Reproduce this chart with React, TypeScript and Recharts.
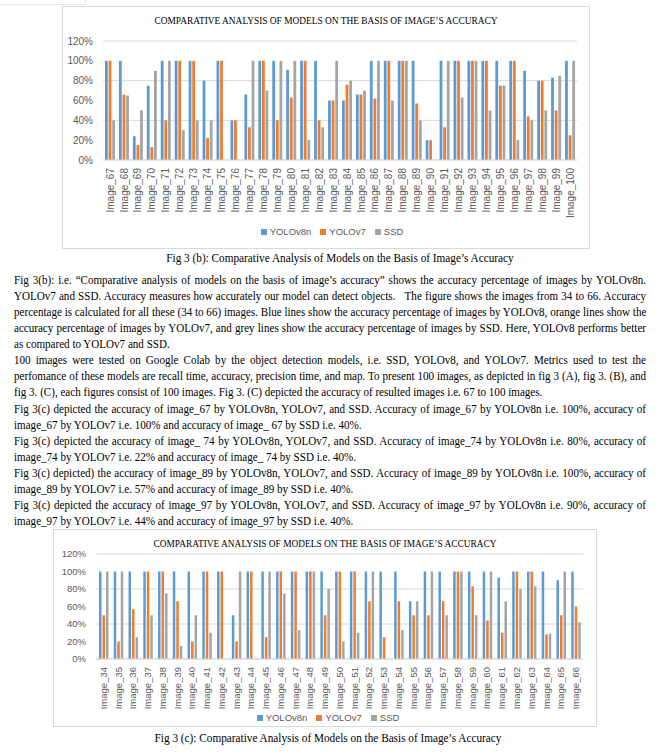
import { BarChart, Bar, XAxis, YAxis, CartesianGrid, Legend } from 'recharts';

const BLUE = '#5B9BD5';
const ORANGE = '#ED7D31';
const GREY = '#A5A5A5';
const AXIS_TEXT = '#595959';
const SANS = '"Liberation Sans", Arial, sans-serif';
const SERIF = '"Liberation Serif", "Times New Roman", serif';

const TITLE = 'COMPARATIVE ANALYSIS OF MODELS ON THE BASIS OF IMAGE’S ACCURACY';
const seriesNames = ['YOLOv8n', 'YOLOv7', 'SSD'];
const seriesColors = [BLUE, ORANGE, GREY];
const yTicks = [0, 20, 40, 60, 80, 100, 120];

// fig 3 (b): images 67 - 100
const topLabels = [
  'Image_67', 'Image_68', 'Image_69', 'Image_70', 'Image_71', 'Image_72', 'Image_73', 'Image_74', 'Image_75',
  'Image_76', 'Image_77', 'Image_78', 'Image_79', 'Image_80', 'Image_81', 'Image_82', 'Image_83', 'Image_84',
  'Image_85', 'Image_86', 'Image_87', 'Image_88', 'Image_89', 'Image_90', 'Image_91', 'Image_92', 'Image_93',
  'Image_94', 'Image_95', 'Image_96', 'Image_97', 'Image_98', 'Image_99', 'Image_100',
];
const topYolov8n = [100, 100, 24, 75, 100, 100, 100, 80, 100, 40, 66, 100, 100, 91, 100, 100, 60, 60, 66, 100, 100, 100, 100, 20, 100, 100, 100, 100, 100, 100, 90, 80, 83, 100];
const topYolov7 = [100, 66, 15, 13, 40, 100, 100, 22, 100, 40, 33, 100, 40, 63, 100, 40, 60, 76, 66, 62, 100, 100, 57, 20, 33, 100, 100, 100, 75, 100, 44, 80, 50, 25];
const topSsd = [40, 65, 50, 90, 100, 30, 40, 40, 0, 0, 100, 70, 100, 100, 20, 33, 100, 80, 70, 100, 60, 100, 40, 0, 100, 63, 100, 50, 75, 20, 40, 50, 85, 100];

// fig 3 (c): images 34 - 66
const bottomLabels = [
  'Image_34', 'Image_35', 'Image_36', 'Image_37', 'Image_38', 'Image_39', 'Image_40', 'Image_41', 'Image_42',
  'Image_43', 'Image_44', 'Image_45', 'Image_46', 'Image_47', 'Image_48', 'Image_49', 'Image_50', 'Image_51',
  'Image_52', 'Image_53', 'Image_54', 'Image_55', 'Image_56', 'Image_57', 'Image_58', 'Image_59', 'Image_60',
  'Image_61', 'Image_62', 'Image_63', 'Image_64', 'Image_65', 'Image_66',
];
const bottomYolov8n = [100, 100, 100, 100, 100, 100, 100, 100, 100, 50, 100, 100, 100, 100, 100, 100, 100, 100, 100, 100, 100, 66, 100, 100, 100, 100, 100, 93, 100, 100, 100, 90, 100];
const bottomYolov7 = [50, 20, 57, 100, 100, 66, 20, 100, 100, 20, 100, 25, 100, 100, 100, 50, 100, 100, 66, 25, 66, 50, 50, 66, 100, 83, 44, 30, 100, 100, 28, 50, 60];
const bottomSsd = [100, 100, 25, 50, 75, 15, 50, 30, 0, 100, 0, 100, 75, 33, 100, 80, 20, 30, 100, 0, 33, 66, 100, 50, 100, 50, 100, 66, 80, 83, 29, 100, 42];

const paragraph = [
  { text: 'Fig 3(b): i.e. “Comparative analysis of models on the basis of image’s accuracy” shows the accuracy percentage of images by YOLOv8n.', full: true },
  { text: 'YOLOv7 and SSD. Accuracy measures how accurately our model can detect objects.   The figure shows the images from 34 to 66. Accuracy', full: true },
  { text: 'percentage is calculated for all these (34 to 66) images. Blue lines show the accuracy percentage of images by YOLOv8, orange lines show the', full: true },
  { text: 'accuracy percentage of images by YOLOv7, and grey lines show the accuracy percentage of images by SSD. Here, YOLOv8 performs better', full: true },
  { text: 'as compared to YOLOv7 and SSD.', full: false },
  { text: '100 images were tested on Google Colab by the object detection models, i.e. SSD, YOLOv8, and YOLOv7. Metrics used to test the', full: true },
  { text: 'perfomance of these models are recall time, accuracy, precision time, and map. To present 100 images, as depicted in fig 3 (A), fig 3. (B), and', full: true },
  { text: 'fig 3. (C), each figures consist of 100 images. Fig 3. (C) depicted the accuracy of resulted images i.e. 67 to 100 images.', full: false },
  { text: 'Fig 3(c) depicted the accuracy of image_67 by YOLOv8n, YOLOv7, and SSD. Accuracy of image_67 by YOLOv8n i.e. 100%, accuracy of', full: true },
  { text: 'image_67 by YOLOv7 i.e. 100% and accuracy of image_ 67 by SSD i.e. 40%.', full: false },
  { text: 'Fig 3(c) depicted the accuracy of image_ 74 by YOLOv8n, YOLOv7, and SSD. Accuracy of image_74 by YOLOv8n i.e. 80%, accuracy of', full: true },
  { text: 'image_74 by YOLOv7 i.e. 22% and accuracy of image_ 74 by SSD i.e. 40%.', full: false },
  { text: 'Fig 3(c) depicted) the accuracy of image_89 by YOLOv8n, YOLOv7, and SSD. Accuracy of image_89 by YOLOv8n i.e. 100%, accuracy of', full: true },
  { text: 'image_89 by YOLOv7 i.e. 57% and accuracy of image_89 by SSD i.e. 40%.', full: false },
  { text: 'Fig 3(c) depicted the accuracy of image_97 by YOLOv8n, YOLOv7, and SSD. Accuracy of image_97 by YOLOv8n i.e. 90%, accuracy of', full: true },
  { text: 'image_97 by YOLOv7 i.e. 44% and accuracy of image_97 by SSD i.e. 40%.', full: false },
];

const buildRows = (labels: string[], a: number[], b: number[], c: number[]) =>
  labels.map((name, i) => ({ name, YOLOv8n: a[i], YOLOv7: b[i], SSD: c[i] }));

const topData = buildRows(topLabels, topYolov8n, topYolov7, topSsd);
const bottomData = buildRows(bottomLabels, bottomYolov8n, bottomYolov7, bottomSsd);

function RotatedTick(props: any) {
  const { x, y, payload, fontSize } = props;
  return (
    <text
      transform={`translate(${x + fontSize * 0.36},${y + 6}) rotate(-90)`}
      textAnchor="end"
      fontSize={fontSize}
      fontFamily={SANS}
      fill={AXIS_TEXT}
    >
      {payload.value}
    </text>
  );
}

// fixed order legend (recharts sorts items by name otherwise)
function LegendContent() {
  return (
    <div style={{ display: 'flex', justifyContent: 'center', gap: 9, fontSize: 9.5, fontFamily: SANS, color: AXIS_TEXT, lineHeight: '12px' }}>
      {seriesNames.map((n, i) => (
        <span key={n} style={{ display: 'inline-flex', alignItems: 'center' }}>
          <span style={{ display: 'inline-block', width: 6, height: 6, background: seriesColors[i], marginRight: 3 }} />
          {n}
        </span>
      ))}
    </div>
  );
}

type ChartProps = {
  data: any[];
  left: number;
  top: number;
  width: number;
  height: number;
  yAxisWidth: number;
  marginTop: number;
  marginRight: number;
  marginBottom: number;
  xAxisHeight: number;
  barSize: number;
  barGap: number;
  tickFont: number;
  titleTop: number;
  legendTop: number;
  legendCenter: number;
};

function AccuracyChart(p: ChartProps) {
  const innerW = p.width - 2;
  const innerH = p.height - 2;
  return (
    <div
      style={{
        position: 'absolute',
        left: p.left,
        top: p.top,
        width: p.width,
        height: p.height,
        boxSizing: 'border-box',
        border: '1px solid #D9D9D9',
        background: '#fff',
      }}
    >
      <div
        style={{
          position: 'absolute',
          top: p.titleTop,
          left: 0,
          width: innerW,
          textAlign: 'center',
          fontFamily: SERIF,
          fontSize: 9.4,
          lineHeight: '10px',
          color: '#000',
          whiteSpace: 'nowrap',
        }}
      >
        {TITLE}
      </div>
      <BarChart
        width={innerW}
        height={innerH}
        data={p.data}
        margin={{ top: p.marginTop, right: p.marginRight, bottom: p.marginBottom, left: 0 }}
        barGap={p.barGap}
        barSize={p.barSize}
      >
        <CartesianGrid vertical={false} stroke="#D9D9D9" />
        <XAxis
          dataKey="name"
          interval={0}
          height={p.xAxisHeight}
          tickLine={false}
          tickSize={0}
          axisLine={{ stroke: '#D9D9D9' }}
          tick={<RotatedTick fontSize={p.tickFont} />}
        />
        <YAxis
          width={p.yAxisWidth}
          domain={[0, 120]}
          ticks={yTicks}
          axisLine={false}
          tickLine={false}
          tickSize={0}
          tickMargin={10}
          tickFormatter={(v: number) => `${v}%`}
          tick={{ fontSize: p.tickFont, fill: AXIS_TEXT, fontFamily: SANS }}
        />
        <Legend
          layout="horizontal"
          verticalAlign="middle"
          align="center"
          content={<LegendContent />}
          wrapperStyle={{ top: p.legendTop, left: p.legendCenter - p.left - 1 - 100, width: 200 }}
        />
        <Bar dataKey={seriesNames[0]} fill={BLUE} isAnimationActive={false} />
        <Bar dataKey={seriesNames[1]} fill={ORANGE} isAnimationActive={false} />
        <Bar dataKey={seriesNames[2]} fill={GREY} isAnimationActive={false} />
      </BarChart>
    </div>
  );
}

const SQUEEZE = 0.9;

function Caption({ top, center, children }: { top: number; center: number; children: any }) {
  return (
    <div
      style={{
        position: 'absolute',
        top,
        left: center - 250,
        width: 500,
        textAlign: 'center',
        fontFamily: SERIF,
        fontSize: 12.5,
        lineHeight: '16px',
        color: '#000',
        whiteSpace: 'nowrap',
        transform: `scaleX(${SQUEEZE})`,
        transformOrigin: 'center',
      }}
    >
      {children}
    </div>
  );
}

export default function App() {
  return (
    <div style={{ position: 'absolute', left: 0, top: 0, width: 661, height: 755, background: '#fff', overflow: 'hidden' }}>
      <div style={{ position: 'absolute', left: -1, top: -2, width: 85, height: 5, border: '1px solid #E6E6E6' }} />

      <AccuracyChart
        data={topData}
        left={62}
        top={6}
        width={528}
        height={243}
        yAxisWidth={40}
        marginTop={34}
        marginRight={12}
        marginBottom={28}
        xAxisHeight={60}
        barSize={2.8}
        barGap={0.8}
        tickFont={10}
        titleTop={9}
        legendTop={219}
        legendCenter={332}
      />
      <Caption top={250} center={340}>
        Fig 3 (b): Comparative Analysis of Models on the Basis of Image’s Accuracy
      </Caption>

      <div
        style={{
          position: 'absolute',
          left: 14,
          top: 272,
          width: 632 / SQUEEZE,
          fontFamily: SERIF,
          fontSize: 12.3,
          lineHeight: '16.07px',
          color: '#000',
          transform: `scaleX(${SQUEEZE})`,
          transformOrigin: 'left top',
        }}
      >
        {paragraph.map((line, i) => (
          <div
            key={i}
            style={{
              whiteSpace: 'pre',
              textAlign: line.full ? 'justify' : 'left',
              textAlignLast: line.full ? 'justify' : 'left',
              height: '16.07px',
            }}
          >
            {line.text}
          </div>
        ))}
      </div>

      <AccuracyChart
        data={bottomData}
        left={53}
        top={529}
        width={544}
        height={198}
        yAxisWidth={42}
        marginTop={24}
        marginRight={13}
        marginBottom={17}
        xAxisHeight={50}
        barSize={2.5}
        barGap={1}
        tickFont={9.5}
        titleTop={9}
        legendTop={182}
        legendCenter={328}
      />
      <Caption top={730} center={328}>
        Fig 3 (c): Comparative Analysis of Models on the Basis of Image’s Accuracy
      </Caption>
    </div>
  );
}
